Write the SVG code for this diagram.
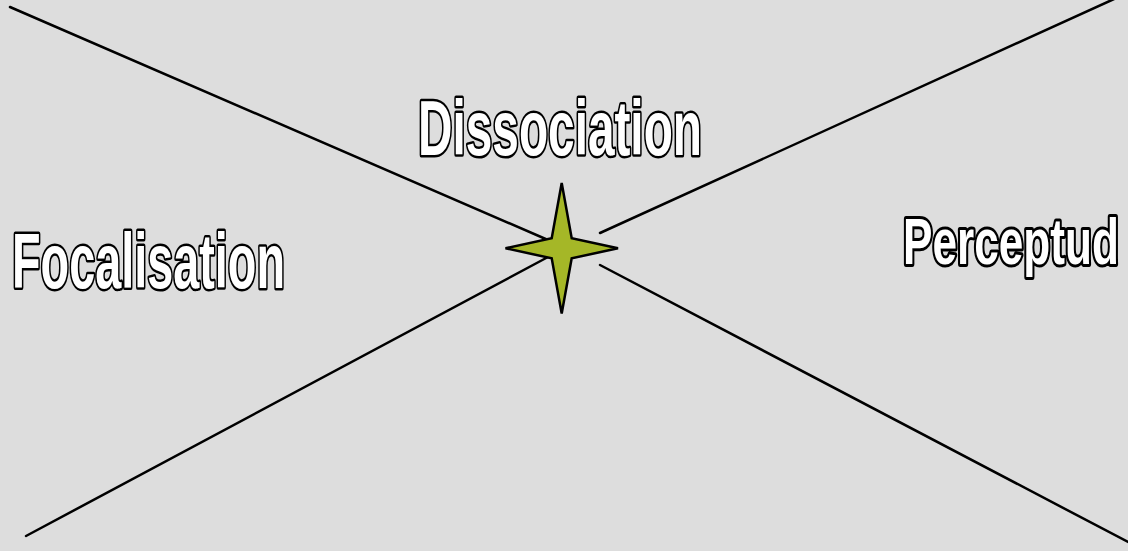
<svg xmlns="http://www.w3.org/2000/svg" width="1128" height="551" viewBox="0 0 1128 551">
<style>
.lbl{font-family:"Liberation Sans",Arial,sans-serif;font-weight:bold;fill:#ffffff;stroke:#000000;stroke-width:5;stroke-linejoin:round;paint-order:stroke}
.ln{stroke:#000000;stroke-width:2.5;fill:none;stroke-linecap:round}
</style>
<rect x="0" y="0" width="1128" height="551" fill="#dddddd"/>
<g id="connectors">
<line class="ln" x1="10" y1="7" x2="548" y2="240"/>
<line class="ln" x1="26" y1="536" x2="548" y2="257"/>
<line class="ln" x1="600" y1="233" x2="1114" y2="-1"/>
<line class="ln" x1="600" y1="265" x2="1130" y2="543"/>
</g>
<g id="star">
<polygon points="561.7,183 571.7,238.3 618,248.3 571.7,258.3 561.7,313.5 551.7,258.3 505.5,248.3 551.7,238.3" fill="#a5b727" stroke="#000000" stroke-width="2.5" stroke-linejoin="miter"/>
</g>
<g id="dissociation">
<text class="lbl" x="418" y="155" font-size="78" textLength="284" lengthAdjust="spacingAndGlyphs">Dissociation</text>
</g>
<g id="focalisation">
<text class="lbl" x="12" y="288" font-size="78" textLength="273" lengthAdjust="spacingAndGlyphs">Focalisation</text>
</g>
<g id="perceptud">
<text class="lbl" transform="translate(903,264) scale(0.69,1)" x="0" y="0" font-size="64" style="stroke-width:6">Perceptud</text>
</g>
</svg>
